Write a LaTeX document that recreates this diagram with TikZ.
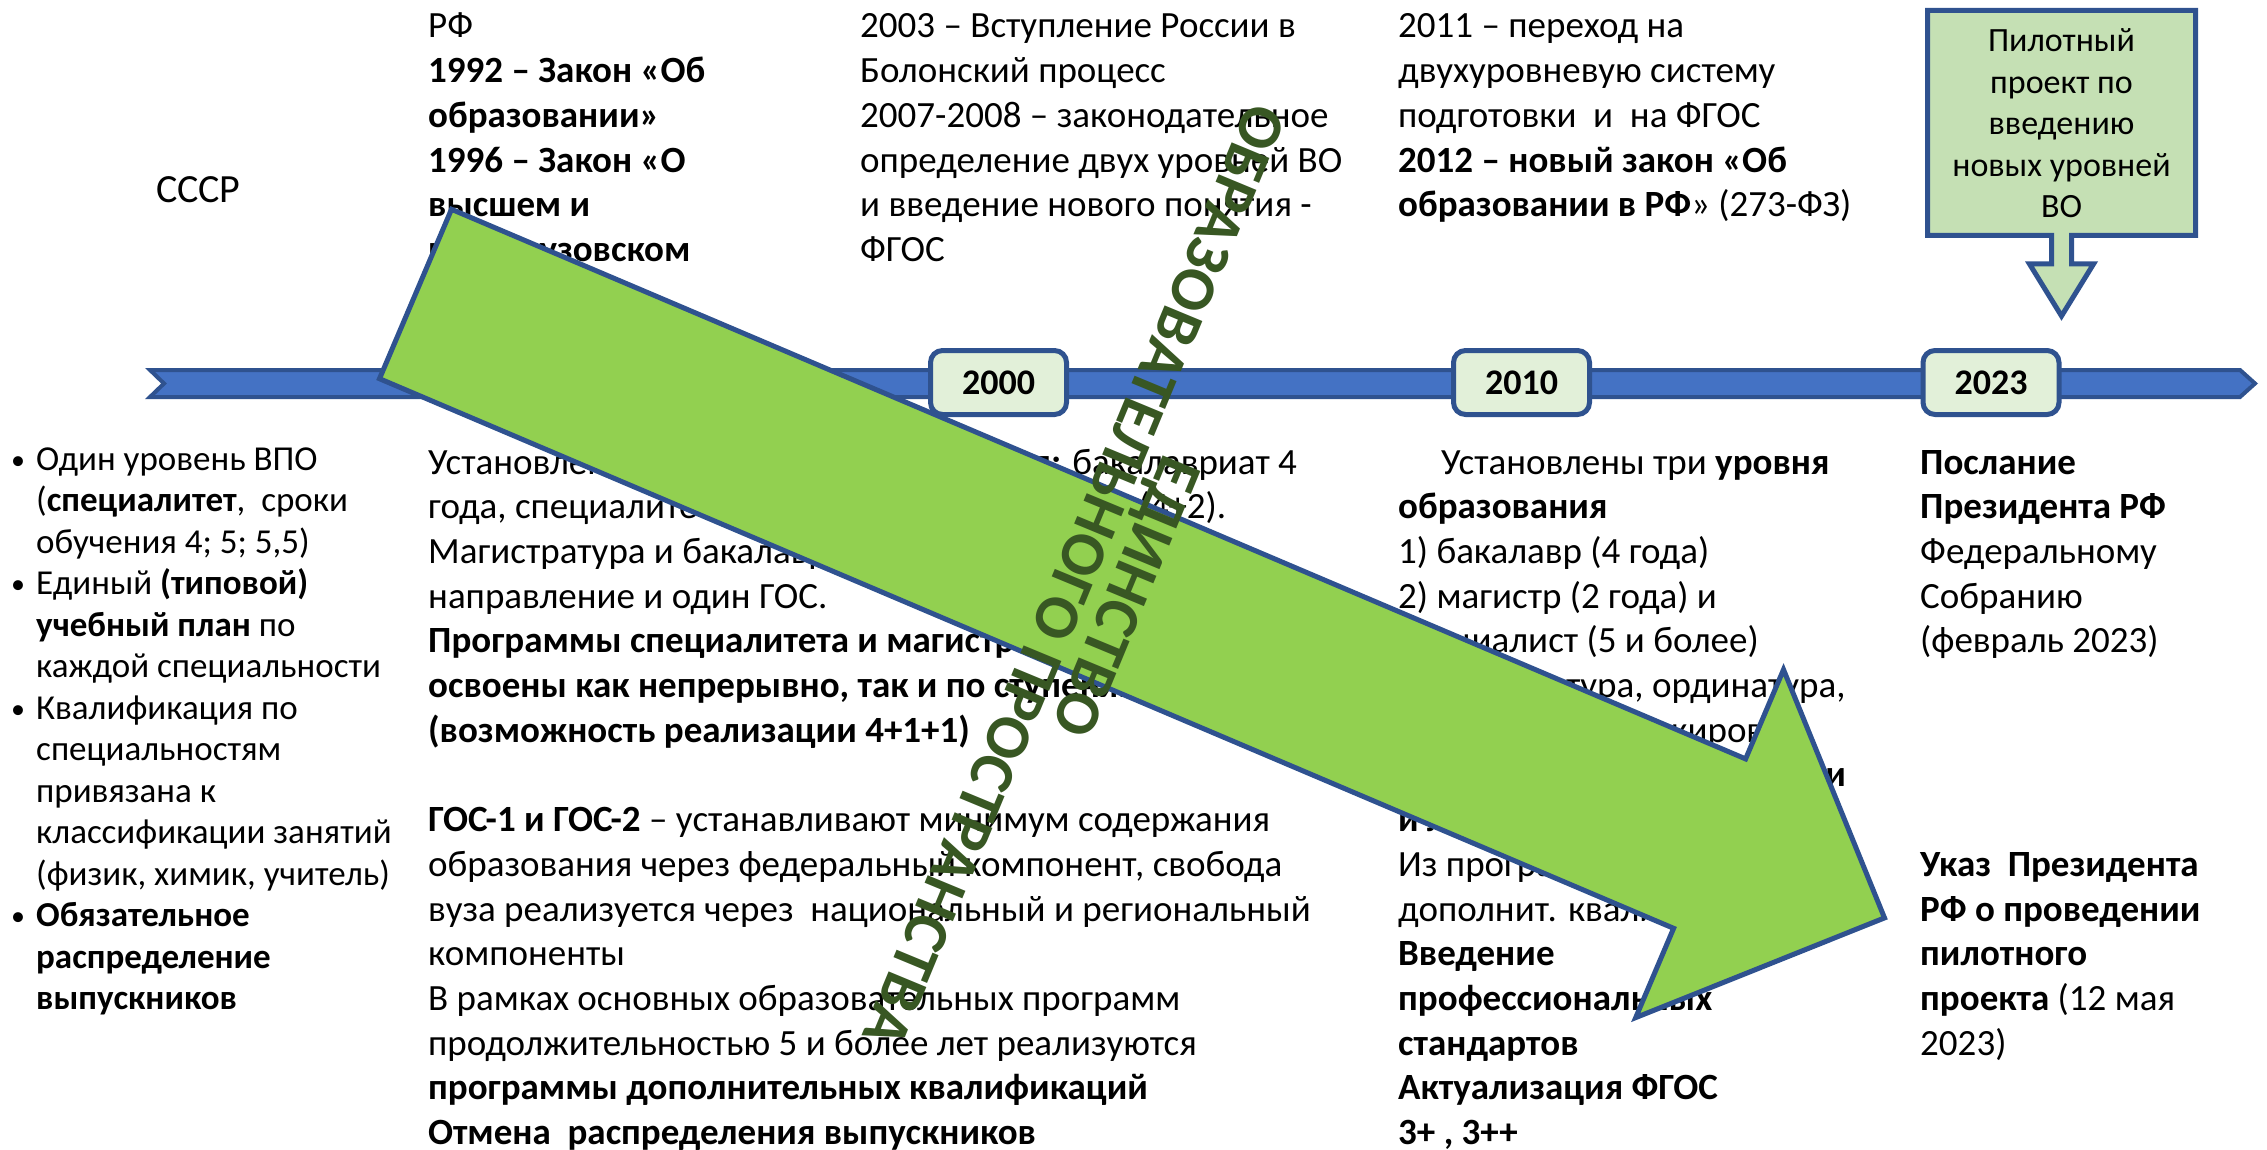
\documentclass[tikz,border=0pt]{standalone}
\usepackage{fontspec}
\setmainfont{Carlito}
\definecolor{tlblue}{HTML}{4472C4}
\definecolor{edgeblue}{HTML}{2F528F}
\definecolor{arrgreen}{HTML}{92D050}
\definecolor{yearfill}{HTML}{E2F0D9}
\definecolor{callfill}{HTML}{C5E0B4}
\definecolor{dgreen}{HTML}{385723}
\newcommand{\bul}{\leavevmode\llap{\makebox[25pt][l]{\fontsize{28pt}{30pt}\selectfont\raisebox{1pt}{•}}}}
\begin{document}
\begin{tikzpicture}[x=1pt,y=-1pt,
  txt/.style={inner sep=0pt, anchor=base west, text=black},
  body/.style={txt, font=\fontsize{37pt}{44.7pt}\selectfont},
  listtxt/.style={txt, font=\fontsize{35pt}{41.5pt}\selectfont},
  yearbox/.style={draw=edgeblue, line width=5pt, fill=yearfill, rounded corners=12pt,
    minimum width=136pt, minimum height=64pt, inner sep=0pt,
    font=\fontsize{36pt}{40pt}\selectfont\bfseries},
  shapeline/.style={draw=edgeblue, line join=miter}
]
\useasboundingbox (0,0) rectangle (2267,1150);

% ---------- top texts ----------
\node[txt, font=\fontsize{40pt}{46pt}\selectfont] (ussr) at (156,203) {СССР};

\node[body] (colA) at (428,38) {\parbox[t]{500pt}{\raggedright
РФ\\
\textbf{1992 – Закон «Об}\\
\textbf{образовании»}\\
\textbf{1996 – Закон «О}\\
\textbf{высшем и}\\
\textbf{послевузовском}}};

\node[body] (colB) at (860,38) {\parbox[t]{520pt}{\raggedright
2003 – Вступление России в\\
Болонский процесс\\
2007-2008 – законодательное\\
определение двух уровней ВО\\
и введение нового понятия -\\
ФГОС}};

\node[body] (colC) at (1398,38) {\parbox[t]{520pt}{\raggedright
2011 – переход на\\
двухуровневую систему\\
подготовки\ \ и\ \ на ФГОС\\
\textbf{2012 – новый закон «Об}\\
\textbf{образовании в РФ}» (273-ФЗ)}};

% ---------- bottom texts ----------
\node[listtxt] (ussrlist) at (36,470) {\parbox[t]{400pt}{\raggedright
\bul Один уровень ВПО\\
(\textbf{специалитет},\ \ сроки\\
обучения 4; 5; 5,5)\\
\bul Единый \textbf{(типовой)}\\
\textbf{учебный план} по\\
каждой специальности\\
\bul Квалификация по\\
специальностям\\
привязана к\\
классификации занятий\\
(физик, химик, учитель)\\
\bul\textbf{Обязательное}\\
\textbf{распределение}\\
\textbf{выпускников}}};

\node[body] (mid) at (428,474) {\parbox[t]{1000pt}{\raggedright
Установлены \textbf{две ступени образования:} бакалавриат 4\\
года, специалитет 5 лет, магистратура 2 года (4+2).\\
Магистратура и бакалавриат имеют общее\\
направление и один ГОС.\\
\textbf{Программы специалитета и магистратуры могут быть}\\
\textbf{освоены как непрерывно, так и по ступеням}\\
\textbf{(возможность реализации 4+1+1)}\\
\mbox{}\\
\textbf{ГОС-1 и ГОС-2} – устанавливают минимум содержания\\
образования через федеральный компонент, свобода\\
вуза реализуется через\ \ национальный и региональный\\
компоненты\\
В рамках основных образовательных программ\\
продолжительностью 5 и более лет реализуются\\
\textbf{программы дополнительных квалификаций}\\
\textbf{Отмена\ \ распределения выпускников}}};

\node[body] (col2010) at (1398,474) {\parbox[t]{520pt}{\raggedright
\hspace*{43pt}Установлены три \textbf{уровня}\\
\textbf{образования}\\
1) бакалавр (4 года)\\
2) магистр (2 года) и\\
специалист (5 и более)\\
3) аспирантура, ординатура,\\
ассистентура-стажировка\\
\textbf{Изменения в аккредитации}\\
\textbf{и лицензирования}\\
Из программ исключены\\
дополнит. квалификации\\
\textbf{Введение}\\
\textbf{профессиональных}\\
\textbf{стандартов}\\
\textbf{Актуализация ФГОС}\\
\textbf{3+ , 3++}}};

\node[body] (col2023) at (1920,474) {\parbox[t]{340pt}{\raggedright
\textbf{Послание}\\
\textbf{Президента РФ}\\
Федеральному\\
Собранию\\
(февраль 2023)\\
\mbox{}\\
\mbox{}\\
\mbox{}\\
\mbox{}\\
\textbf{Указ\ \ Президента}\\
\textbf{РФ о проведении}\\
\textbf{пилотного}\\
\textbf{проекта} (12 мая\\
2023)}};

% ---------- timeline ----------
\draw[shapeline, line width=4pt, fill=tlblue]
  (150,370) -- (2240,370) -- (2255,383.5) -- (2240,397) -- (150,397) -- (164,383.5) -- cycle;

\node[yearbox] (y2000) at (998.5,382.5) {2000};
\node[yearbox] (y2010) at (1521.5,382.5) {2010};
\node[yearbox] (y2023) at (1991,382.5) {2023};

% ---------- callout ----------
\draw[shapeline, line width=5pt, fill=callfill]
  (1927.5,10.5) -- (2195.5,10.5) -- (2195.5,235.5) -- (2071.5,235.5) -- (2071.5,264)
  -- (2093.5,264) -- (2061.5,316) -- (2029.5,264) -- (2051.5,264) -- (2051.5,235.5)
  -- (1927.5,235.5) -- cycle;
\node[inner sep=0pt, anchor=base, font=\fontsize{34pt}{41.5pt}\selectfont]
  (pilot) at (2061.5,52) {\parbox[t]{260pt}{\centering Пилотный\\проект по\\введению\\новых уровней\\ВО}};

% ---------- big green arrow ----------
\draw[shapeline, line width=5pt, fill=arrgreen]
  (451.5,209.3) -- (1745.6,758.9) -- (1783.5,669.6) -- (1884.5,917.9)
  -- (1635.7,1017.6) -- (1673.6,928.3) -- (379.5,378.7) -- cycle;

% ---------- rotated slogan ----------
\node[rotate=-112.5, anchor=base, inner sep=0pt, text=dgreen,
      font=\fontsize{63pt}{56pt}\selectfont\bfseries] (slogan) at (1056,568)
  {\parbox[b]{1300pt}{\centering ЕДИНСТВО\\ОБРАЗОВАТЕЛЬНОГО ПРОСТРАНСТВА}};
\end{tikzpicture}
\end{document}
